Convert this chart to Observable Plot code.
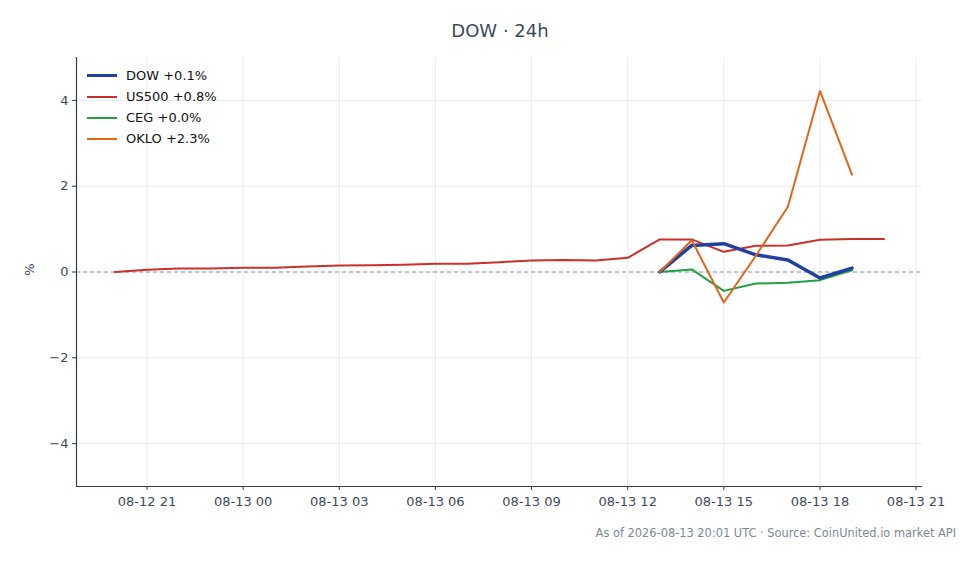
<!DOCTYPE html>
<html>
<head>
<meta charset="utf-8">
<script src="https://cdn.jsdelivr.net/npm/d3@7"></script>
<script src="https://cdn.jsdelivr.net/npm/@observablehq/plot@0.6"></script>
<style>
  html, body { margin: 0; padding: 0; background: #fff; }
  #wrap { position: relative; width: 980px; height: 564px; font-family: "DejaVu Sans", sans-serif; }
  #title { position: absolute; left: 0; width: 1000px; top: 20px; text-align: center; font-size: 18px; color: #3d4a5a; }
  #ylab { position: absolute; left: 23px; top: 262px; font-size: 13px; color: #3d4a5a; transform: rotate(-90deg); transform-origin: center; }
  #foot { position: absolute; right: 24px; top: 526px; font-size: 11.4px; color: #7d8793; white-space: nowrap; }
  #legend { position: absolute; left: 87px; top: 65px; font-size: 13px; color: #111; }
  .li { display: flex; align-items: center; height: 21px; }
  .sw { width: 30px; margin-right: 9px; }
  svg { position: absolute; left: 0; top: 0; }
</style>
</head>
<body>
<div id="wrap">
  <div id="chart"></div>
  <div id="title">DOW · 24h</div>
  <div id="ylab">%</div>
  <div id="legend"></div>
  <div id="foot">As of 2026-08-13 20:01 UTC · Source: CoinUnited.io market API</div>
</div>
<script>
// Hourly timestamps (UTC)
const usTimes = [
  "2026-08-12T20:00Z","2026-08-12T21:00Z","2026-08-12T22:00Z","2026-08-12T23:00Z",
  "2026-08-13T00:00Z","2026-08-13T01:00Z","2026-08-13T02:00Z","2026-08-13T03:00Z",
  "2026-08-13T04:00Z","2026-08-13T05:00Z","2026-08-13T06:00Z","2026-08-13T07:00Z",
  "2026-08-13T08:00Z","2026-08-13T09:00Z","2026-08-13T10:00Z","2026-08-13T11:00Z",
  "2026-08-13T12:00Z","2026-08-13T13:00Z","2026-08-13T14:00Z","2026-08-13T15:00Z",
  "2026-08-13T16:00Z","2026-08-13T17:00Z","2026-08-13T18:00Z","2026-08-13T19:00Z",
  "2026-08-13T20:00Z"
];
const us500 = [0, 0.05, 0.08, 0.08, 0.10, 0.10, 0.13, 0.15, 0.16, 0.17, 0.19, 0.19,
  0.23, 0.27, 0.28, 0.27, 0.33, 0.76, 0.76, 0.47, 0.61, 0.62, 0.75, 0.77, 0.77];

const stockTimes = [
  "2026-08-13T13:00Z","2026-08-13T14:00Z","2026-08-13T15:00Z","2026-08-13T16:00Z",
  "2026-08-13T17:00Z","2026-08-13T18:00Z","2026-08-13T19:00Z"
];
const dow  = [0, 0.62, 0.66, 0.40, 0.28, -0.14, 0.09];
const ceg  = [0, 0.06, -0.44, -0.27, -0.25, -0.19, 0.04];
const oklo = [0, 0.74, -0.71, 0.38, 1.52, 4.22, 2.27];

const seriesNames  = ["DOW", "US500", "CEG", "OKLO"];
const seriesLabels = ["DOW +0.1%", "US500 +0.8%", "CEG +0.0%", "OKLO +2.3%"];
const seriesColors = ["#2140a0", "#c9302c", "#22a045", "#e0661c"];
const seriesWidths = [3.5, 2, 2, 2];

const xTickTimes = ["2026-08-12T21:00Z","2026-08-13T00:00Z","2026-08-13T03:00Z","2026-08-13T06:00Z",
  "2026-08-13T09:00Z","2026-08-13T12:00Z","2026-08-13T15:00Z","2026-08-13T18:00Z","2026-08-13T21:00Z"];
const yTicks = [-4, -2, 0, 2, 4];
const yDomain = [-5, 5];

const toRows = (times, vals, name) => times.map((t, i) => ({t: new Date(t), v: vals[i], s: name}));
const rows = {
  DOW: toRows(stockTimes, dow, "DOW"),
  US500: toRows(usTimes, us500, "US500"),
  CEG: toRows(stockTimes, ceg, "CEG"),
  OKLO: toRows(stockTimes, oklo, "OKLO")
};

const t0 = new Date(usTimes[0]), t1 = new Date(usTimes[usTimes.length - 1]);
const pad = (t1 - t0) * 0.05;
const xDomain = [new Date(+t0 - pad), new Date(+t1 + pad)];
const xTicks = xTickTimes.map(d => new Date(d));
const fmt = d3.utcFormat("%m-%d %H");

const lineMark = (name) => {
  const i = seriesNames.indexOf(name);
  return Plot.line(rows[name], {x: "t", y: "v", stroke: seriesColors[i], strokeWidth: seriesWidths[i], curve: "linear"});
};

const chart = Plot.plot({
  width: 980,
  height: 564,
  marginLeft: 76,
  marginRight: 58,
  marginTop: 57,
  marginBottom: 78,
  style: {fontFamily: "DejaVu Sans, sans-serif", fontSize: "13px", color: "#3d4a5a", background: "white"},
  x: {type: "utc", domain: xDomain},
  y: {domain: yDomain},
  marks: [
    Plot.gridX(xTicks, {stroke: "#e4e6ea", strokeOpacity: 1, strokeWidth: 0.8}),
    Plot.gridY(yTicks, {stroke: "#e4e6ea", strokeOpacity: 1, strokeWidth: 0.8}),
    Plot.ruleY([0], {stroke: "#8c9aab", strokeWidth: 1, strokeDasharray: "4,3"}),
    Plot.axisX(xTicks, {tickFormat: fmt, tickSize: 4, tickPadding: 6, label: null, stroke: "#333d4a"}),
    Plot.axisY(yTicks, {tickFormat: d => d < 0 ? "\u2212" + Math.abs(d) : String(d), tickSize: 4, tickPadding: 4, label: null, stroke: "#333d4a"}),
    Plot.ruleX([xDomain[0]], {stroke: "#333d4a", strokeWidth: 1.2}),
    Plot.ruleY([yDomain[0]], {stroke: "#333d4a", strokeWidth: 1.2}),
    lineMark("US500"),
    lineMark("CEG"),
    lineMark("DOW"),
    lineMark("OKLO")
  ]
});
document.getElementById("chart").appendChild(chart);

const lg = document.getElementById("legend");
seriesNames.forEach((n, i) => {
  const row = document.createElement("div");
  row.className = "li";
  const sw = document.createElement("div");
  sw.className = "sw";
  sw.style.height = seriesWidths[i] + "px";
  sw.style.background = seriesColors[i];
  const tx = document.createElement("span");
  tx.textContent = seriesLabels[i];
  row.appendChild(sw); row.appendChild(tx);
  lg.appendChild(row);
});
</script>
</body>
</html>
